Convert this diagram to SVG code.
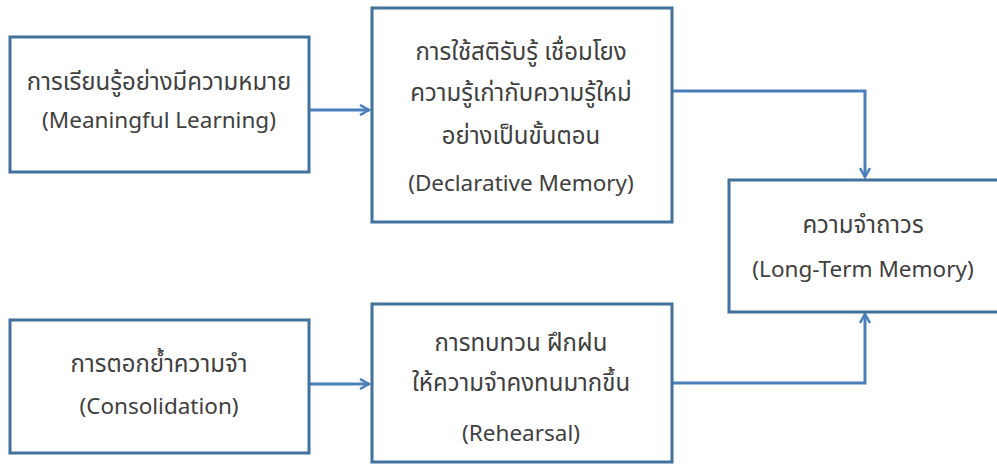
<svg xmlns="http://www.w3.org/2000/svg" width="997" height="464" viewBox="0 0 997 464">
<defs>
<style>
.box{fill:#ffffff;stroke:#41719c;stroke-width:3}
.t{font-family:"Noto Sans","Noto Sans Thai","Open Sans",sans-serif;fill:#404040;text-anchor:middle;dominant-baseline:central}
.th{font-size:24px}
.en{font-size:22.5px}
.c{fill:none;stroke:#4a7ebb;stroke-width:3;stroke-linejoin:miter}
</style>
<marker id="ah" viewBox="0 0 12 12" refX="10" refY="6" markerWidth="12" markerHeight="12" markerUnits="userSpaceOnUse" orient="auto">
<path d="M1,1 L10,6 L1,11" fill="none" stroke="#4a7ebb" stroke-width="2.5"/>
</marker>
</defs>
<rect width="997" height="464" fill="#ffffff"/>
<g id="connectors">
<path class="c" d="M309,110 H369" marker-end="url(#ah)"/>
<path class="c" d="M309,384 H369" marker-end="url(#ah)"/>
<path class="c" d="M672,91 H865 V177" marker-end="url(#ah)"/>
<path class="c" d="M672,383 H865 V314" marker-end="url(#ah)"/>
</g>
<g id="meaningful">
<rect class="box" x="10" y="37" width="299" height="135"/>
<text class="t th" x="159" y="80">การเรียนรู้อย่างมีความหมาย</text>
<text class="t en" x="159" y="119">(Meaningful Learning)</text>
</g>
<g id="declarative">
<rect class="box" x="372" y="8" width="300" height="214"/>
<text class="t th" x="521" y="50">การใช้สติรับรู้ เชื่อมโยง</text>
<text class="t th" x="521" y="91">ความรู้เก่ากับความรู้ใหม่</text>
<text class="t th" x="521" y="134">อย่างเป็นขั้นตอน</text>
<text class="t en" x="521" y="182">(Declarative Memory)</text>
</g>
<g id="longterm">
<rect class="box" x="729" y="180" width="275" height="132"/>
<text class="t th" x="863" y="223">ความจำถาวร</text>
<text class="t en" x="863" y="268">(Long-Term Memory)</text>
</g>
<g id="consolidation">
<rect class="box" x="10" y="320" width="299" height="133"/>
<text class="t th" x="159" y="362">การตอกย้ำความจำ</text>
<text class="t en" x="159" y="405">(Consolidation)</text>
</g>
<g id="rehearsal">
<rect class="box" x="372" y="304" width="300" height="158"/>
<text class="t th" x="521" y="341">การทบทวน ฝึกฝน</text>
<text class="t th" x="521" y="381">ให้ความจำคงทนมากขึ้น</text>
<text class="t en" x="521" y="432">(Rehearsal)</text>
</g>
</svg>
